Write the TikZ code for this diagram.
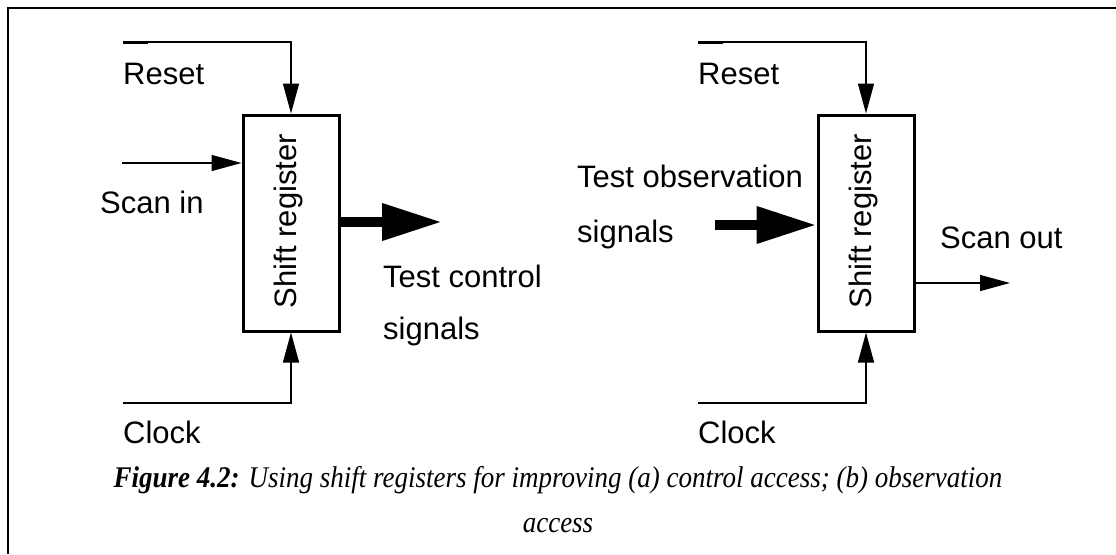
\documentclass[tikz,border=0pt]{standalone}
\usepackage{fontspec}
\setmainfont{Liberation Sans}
\newfontfamily\capfont{Liberation Serif}
\usetikzlibrary{arrows.meta}
\begin{document}
\begin{tikzpicture}[x=1pt,y=-1pt,
  lbl/.style={anchor=base west,inner sep=0pt,font=\fontsize{31}{31}\selectfont},
  regbox/.style={draw,line width=3pt,minimum width=96pt,minimum height=216pt,inner sep=0pt},
  sig/.style={line width=1.3pt,-{Triangle[length=30pt,width=16pt]}},
  bus/.style={line width=10pt,-{Triangle[length=60pt,width=35pt]}},
  frame/.style={line width=2pt},
  captxt/.style={anchor=base,inner sep=0pt,font=\capfont\fontsize{30}{30}\selectfont\itshape}]
\useasboundingbox (0,0) rectangle (1116,554);
\draw[frame] (8,554) -- (8,8) -- (1116,8);
% left register
\node[regbox] (sr1) at (291,223) {};
\node[rotate=90,font=\fontsize{31}{31}\selectfont,inner sep=0pt] (t1) at (288,221) {Shift register};
\coordinate (r1) at (123,42);
\draw[sig] (r1) -| (sr1.north);
\draw[line width=3pt] (r1) -- ++(25,0);
\node[lbl] (lr1) at (123,84) {Reset};
\coordinate (si1) at (122,163);
\draw[sig] (si1) -- (si1 -| sr1.west);
\node[lbl] (lsi) at (100,213) {Scan in};
\coordinate (tc) at (442,222);
\draw[bus] (tc -| sr1.east) -- (tc);
\node[lbl] (ltc1) at (383,287) {Test control};
\node[lbl] (ltc2) at (383,339) {signals};
\coordinate (c1) at (123,403);
\draw[sig] (c1) -| (sr1.south);
\node[lbl] (lc1) at (123,443) {Clock};
% right register
\node[regbox] (sr2) at (866,223) {};
\node[rotate=90,font=\fontsize{31}{31}\selectfont,inner sep=0pt] (t2) at (863,221) {Shift register};
\coordinate (r2) at (698,42);
\draw[sig] (r2) -| (sr2.north);
\draw[line width=3pt] (r2) -- ++(25,0);
\node[lbl] (lr2) at (698,84) {Reset};
\coordinate (to) at (715,225);
\draw[bus] (to) -- (to -| sr2.west);
\node[lbl] (lto1) at (577,187) {Test observation};
\node[lbl] (lto2) at (577,242) {signals};
\coordinate (so) at (1010,283);
\draw[sig] (so -| sr2.east) -- (so);
\node[lbl] (lso) at (940,248) {Scan out};
\coordinate (c2) at (698,403);
\draw[sig] (c2) -| (sr2.south);
\node[lbl] (lc2) at (698,443) {Clock};
% caption
\node[captxt] (cap1) at (558,487) {\scalebox{0.9}[1]{\textbf{Figure 4.2:} Using shift registers for improving (a) control access; (b) observation}};
\node[captxt] (cap2) at (558,532) {\scalebox{0.9}[1]{access}};
\end{tikzpicture}
\end{document}
